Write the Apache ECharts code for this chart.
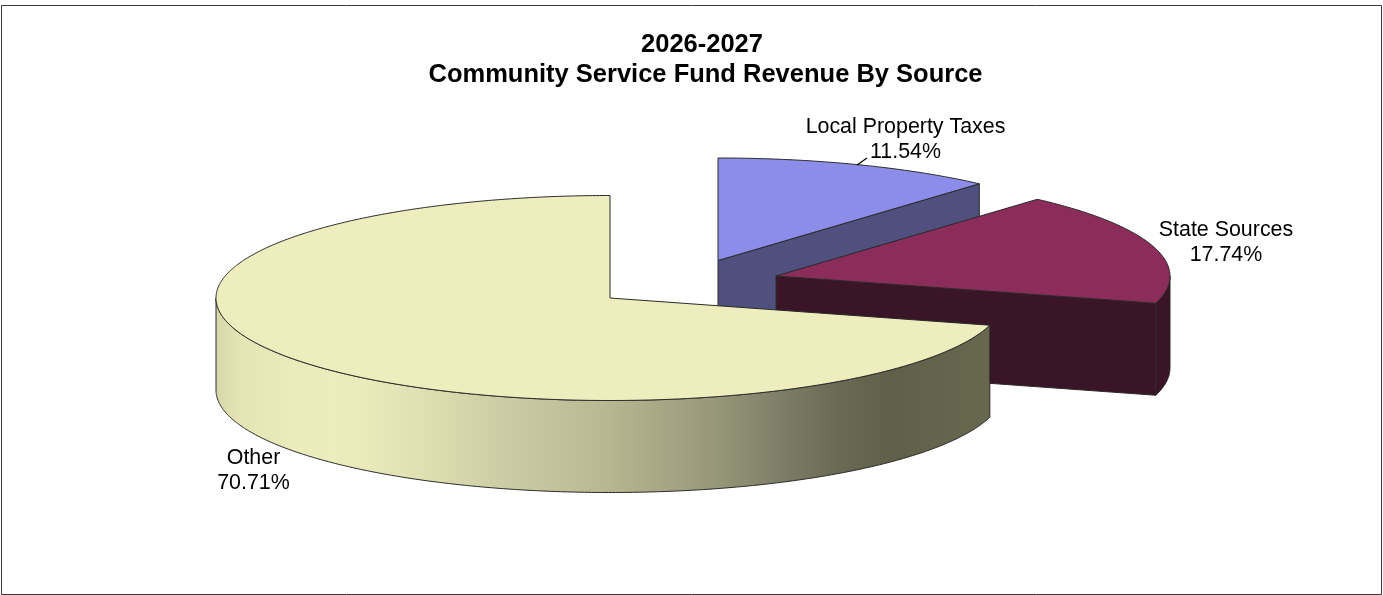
<!DOCTYPE html>
<html>
<head>
<meta charset="utf-8">
<title>Community Service Fund Revenue By Source</title>
<style>
  html, body { margin: 0; padding: 0; background: #fff; }
  #chart { width: 1383px; height: 595px; }
</style>
<script src="https://cdn.jsdelivr.net/npm/echarts@6/dist/echarts.min.js"></script>
</head>
<body>
<div id="chart"></div>
<script>
// Revenue shares, in clockwise order from twelve o'clock
const categories = ['Local Property Taxes', 'State Sources', 'Other'];
const shares = [11.54, 17.74, 70.71];
const titleLines = ['2026-2027', 'Community Service Fund Revenue By Source'];

// Projection of the tilted disc
const RX = 394, RY = 102.5, DEPTH = 92;
const PIE_X = 610, PIE_Y = 298;
const FONT = '"Liberation Sans", Arial, sans-serif';

// Per-slice look: how far it is pulled out of the pie, its colours and its label spot
const sliceStyles = [
  { dx: 108, dy: -37.5, top: '#8c8ceb', wall: '#50507f', label: [905.5, 139.5], lead: [[857, 165], [867, 158]] },
  { dx: 166, dy: -22, top: '#8b2c5b', wall: '#3a1427', label: [1226, 242.5] },
  { dx: 0,   dy: 0,   top: '#ededbd', wall: null,      label: [253.5, 471] }
];

// Shading of the curved wall of the large slice, left to right
const wallShade = [
  [0.00, '#d6d6a9'], [0.03, '#e4e4b5'], [0.10, '#ebebbb'], [0.15, '#ecedbc'],
  [0.19, '#eaeabb'], [0.27, '#dfdfb2'], [0.37, '#cdcda5'], [0.50, '#b8b892'],
  [0.63, '#9b9b7c'], [0.72, '#81816a'], [0.80, '#6b6b55'], [0.87, '#60604a'],
  [1.00, '#68684f']
];

const EDGE = '#2a2a2a';

function rimPoint(cx, cy, deg, drop) {
  const a = deg * Math.PI / 180;
  return [cx + RX * Math.sin(a), cy - RY * Math.cos(a) + (drop || 0)];
}

function arcPoints(cx, cy, from, to, drop) {
  const pts = [];
  const steps = Math.max(2, Math.ceil(Math.abs(to - from) * 2));
  for (let i = 0; i <= steps; i++) {
    pts.push(rimPoint(cx, cy, from + (to - from) * i / steps, drop));
  }
  return pts;
}

function renderSlice(params, api) {
  const idx = params.dataIndex;
  const total = shares.reduce((s, v) => s + v, 0);
  const before = shares.slice(0, idx).reduce((s, v) => s + v, 0);
  const start = before / total * 360;
  const end = (before + api.value(0)) / total * 360;
  const look = sliceStyles[idx];
  const cx = PIE_X + look.dx, cy = PIE_Y + look.dy;
  const children = [];
  const edge = { stroke: EDGE, lineWidth: 1, lineJoin: 'round' };

  // Curved outer wall, only the part that faces the viewer
  const wallFrom = Math.max(start, 90), wallTo = Math.min(end, 270);
  if (wallTo > wallFrom) {
    const upper = arcPoints(cx, cy, wallFrom, wallTo, 0);
    const lower = arcPoints(cx, cy, wallTo, wallFrom, DEPTH);
    children.push({
      type: 'polygon',
      shape: { points: upper.concat(lower) },
      style: Object.assign({
        fill: look.wall || new echarts.graphic.LinearGradient(0, 0, 1, 0,
          wallShade.map(s => ({ offset: s[0], color: s[1] })))
      }, edge)
    });
  }

  // Flat cut face on the clockwise end of a slice pulled towards the viewer
  if (look.wall) {
    const rim = rimPoint(cx, cy, end, 0);
    children.push({
      type: 'polygon',
      shape: { points: [[cx, cy], rim, [rim[0], rim[1] + DEPTH], [cx, cy + DEPTH]] },
      style: Object.assign({ fill: look.wall }, edge)
    });
  }

  // Top face
  children.push({
    type: 'polygon',
    shape: { points: [[cx, cy]].concat(arcPoints(cx, cy, start, end, 0)) },
    style: Object.assign({ fill: look.top }, edge)
  });

  return { type: 'group', children };
}

// Labels sit above every slice, so they go in their own series
function renderLabel(params, api) {
  const idx = params.dataIndex;
  const look = sliceStyles[idx];
  const children = [{
    type: 'text',
    style: {
      text: categories[idx] + '\n' + api.value(0).toFixed(2) + '%',
      x: look.label[0], y: look.label[1],
      align: 'center', verticalAlign: 'middle',
      fontFamily: FONT, fontSize: 21.4, lineHeight: 25, fill: '#000'
    }
  }];
  if (look.lead) {
    children.push({
      type: 'polyline',
      shape: { points: look.lead },
      style: { stroke: '#000', lineWidth: 1.2, fill: null }
    });
  }
  return { type: 'group', children };
}

const titleFont = { fontFamily: FONT, fontSize: 25.5, fontWeight: 'bold', color: '#000' };

const chart = echarts.init(document.getElementById('chart'));
chart.setOption({
  animation: false,
  backgroundColor: '#fff',
  title: [
    { text: titleLines[0], left: 697, top: 27, textAlign: 'center', textStyle: titleFont },
    { text: titleLines[1], left: 700.5, top: 57, textAlign: 'center', textStyle: titleFont }
  ],
  graphic: [{
    type: 'rect',
    silent: true,
    shape: { x: 1.5, y: 5.5, width: 1380, height: 589 },
    style: { fill: null, stroke: '#3a3a3a', lineWidth: 1 }
  }],
  series: [
    { type: 'custom', coordinateSystem: 'none', renderItem: renderSlice, data: shares.map(v => [v]) },
    { type: 'custom', coordinateSystem: 'none', renderItem: renderLabel, data: shares.map(v => [v]), z: 5 }
  ]
});
</script>
</body>
</html>
